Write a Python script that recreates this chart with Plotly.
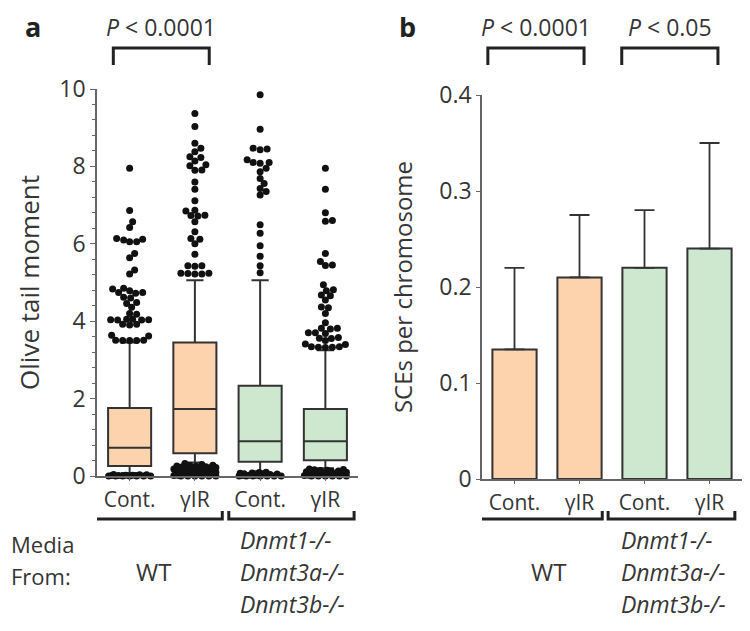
import plotly.graph_objects as go

# ---------------- data ----------------
categories = ["Cont.", "γIR", "Cont.", "γIR"]
wt_label = "WT"
ko_lines = ["Dnmt1-/-", "Dnmt3a-/-", "Dnmt3b-/-"]
media_lines = ["Media", "From:"]
fill_colors = ["#FDD3AE", "#FDD3AE", "#CDE8CF", "#CDE8CF"]

# panel a: Olive tail moment box plots
box_q1 = [0.26, 0.59, 0.37, 0.41]
box_median = [0.73, 1.73, 0.90, 0.90]
box_q3 = [1.76, 3.45, 2.33, 1.73]
box_lower = [0.08, 0.35, 0.12, 0.20]
box_upper = [3.45, 5.06, 5.06, 3.25]

wt_cont_out = [7.95, 6.86, 6.57, 6.42, 6.14, 6.12, 6.10, 6.05, 6.05, 5.75, 5.64, 5.32, 5.22,
               4.85, 4.83, 4.79, 4.74, 4.74, 4.72, 4.62, 4.60, 4.48, 4.46, 4.36, 4.20, 4.18,
               4.05, 4.05, 4.04, 4.04, 4.03, 4.03, 3.92, 3.92, 3.90, 3.64, 3.62,
               3.51, 3.51, 3.50, 3.50, 3.50,
               0.0, 0.0, 0.0, 0.0, 0.0, 0.0, 0.0, 0.01, 0.01, 0.02, 0.02, 0.03, 0.03, 0.04]
wt_gir_out = [9.37, 9.03, 8.60, 8.47, 8.38, 8.25, 8.23, 8.14, 8.04, 8.02, 7.91, 7.90, 7.60,
              7.41, 7.11, 6.87, 6.85, 6.74, 6.73, 6.72, 6.57, 6.31, 6.14, 6.12, 6.00, 5.73,
              5.43, 5.43, 5.42, 5.24, 5.24, 5.23, 5.22, 5.22,
              0.0, 0.0, 0.0, 0.0, 0.0, 0.0, 0.01, 0.02, 0.03, 0.04, 0.05, 0.05, 0.06, 0.07,
              0.08, 0.09, 0.10, 0.10, 0.11, 0.12, 0.13, 0.14, 0.15, 0.15, 0.16, 0.17, 0.18,
              0.19, 0.20, 0.20, 0.21, 0.22, 0.23, 0.24, 0.25, 0.26, 0.27, 0.28, 0.30, 0.32]
ko_cont_out = [9.85, 8.96, 8.47, 8.45, 8.43, 8.17, 8.10, 8.10, 8.08, 7.95, 7.86, 7.69, 7.56,
               7.43, 7.35, 7.26, 6.49, 6.27, 5.95, 5.68, 5.43, 5.25,
               0.0, 0.0, 0.0, 0.0, 0.0, 0.0, 0.0, 0.01, 0.02, 0.02, 0.03, 0.04, 0.05, 0.06,
               0.07, 0.08, 0.09, 0.10]
ko_gir_out = [7.95, 7.41, 6.80, 6.60, 6.58, 5.75, 5.54, 5.45, 5.44, 4.94, 4.81, 4.79, 4.68,
              4.66, 4.55, 4.37, 4.35, 4.20, 3.96, 3.82, 3.82, 3.80, 3.70, 3.70, 3.68, 3.58,
              3.56, 3.55, 3.50, 3.41, 3.40, 3.34, 3.34, 3.33, 3.33, 3.32,
              0.0, 0.0, 0.0, 0.0, 0.0, 0.0, 0.01, 0.02, 0.03, 0.04, 0.05, 0.06, 0.07, 0.08,
              0.08, 0.09, 0.10, 0.11, 0.12, 0.13, 0.14, 0.15, 0.16, 0.17, 0.18]
outliers = [wt_cont_out, wt_gir_out, ko_cont_out, ko_gir_out]

# panel b: SCEs per chromosome
sce_mean = [0.135, 0.21, 0.22, 0.24]
sce_err = [0.085, 0.065, 0.06, 0.11]

# ---------------- style / geometry ----------------
FONT = "Open Sans"
TXT = "#353535"
LINE = "#333333"
AX = "#666666"

OFF = 8              # page body margin
W, H = 734, 615      # figure size
ax_a_x = (97, 358)
ax_b_x = (482, 742)
ax_a_y = (89, 476)
ax_b_y = (95, 479)


def px2paper_x(p):
    return (p - OFF) / W


def px2paper_y(p):
    return 1 - (p - OFF) / H


def swarm(vals, px_per_unit, px_per_cat, diam=6.3, max_half=21):
    """Simple beeswarm: return x-offsets (category units) for the values."""
    order = sorted(range(len(vals)), key=lambda i: vals[i])
    placed = []
    offs = [0.0] * len(vals)
    for i in order:
        y = vals[i] * px_per_unit
        best = None
        for k in range(0, max_half + 1):
            for s in ([0] if k == 0 else [1, -1]):
                x = s * k
                if all((x - a) ** 2 + (y - b) ** 2 >= diam ** 2 for a, b in placed):
                    best = x
                    break
            if best is not None:
                break
        if best is None:
            cands = list(range(-max_half, max_half + 1))
            best = max(cands, key=lambda x: min((x - a) ** 2 + (y - b) ** 2 for a, b in placed))
        placed.append((best, y))
        offs[i] = best / px_per_cat
    return offs


fig = go.Figure()

# ---- panel a boxes ----
for i in range(4):
    fig.add_trace(go.Box(
        x=[i], q1=[box_q1[i]], median=[box_median[i]], q3=[box_q3[i]],
        lowerfence=[box_lower[i]], upperfence=[box_upper[i]],
        fillcolor=fill_colors[i], line=dict(color=LINE, width=2),
        width=0.66, whiskerwidth=0.4, boxpoints=False, showlegend=False,
        xaxis="x", yaxis="y"))

px_per_unit_a = (ax_a_y[1] - ax_a_y[0]) / 10.0
px_per_cat_a = (ax_a_x[1] - ax_a_x[0]) / 4.0
for i, vals in enumerate(outliers):
    offs = swarm(vals, px_per_unit_a, px_per_cat_a)
    fig.add_trace(go.Scatter(
        x=[i + o for o in offs], y=vals, mode="markers",
        marker=dict(color="#111111", size=7), cliponaxis=False,
        showlegend=False, xaxis="x", yaxis="y"))

# ---- panel b bars ----
fig.add_trace(go.Bar(
    x=list(range(4)), y=sce_mean, width=0.68,
    marker=dict(color=fill_colors, line=dict(color=LINE, width=2)),
    error_y=dict(type="data", symmetric=False, array=sce_err,
                 arrayminus=[0] * 4, color=LINE, thickness=1.8, width=10),
    showlegend=False, xaxis="x2", yaxis="y2"))

axis_common = dict(showgrid=False, zeroline=False, showline=True, linecolor=AX,
                   linewidth=1.6, automargin=False)
tick_font = dict(family=FONT, size=23, color=TXT)
cat_font = dict(family=FONT, size=21, color=TXT)

fig.update_layout(
    width=W, height=H, margin=dict(l=0, r=0, t=0, b=0),
    paper_bgcolor="white", plot_bgcolor="white",
    font=dict(family=FONT, size=22, color=TXT),
    xaxis=dict(domain=[px2paper_x(ax_a_x[0]), px2paper_x(ax_a_x[1])],
               range=[-0.5, 3.5], tickvals=list(range(4)), ticktext=categories,
               ticks="outside", ticklen=3, tickcolor=AX, ticklabelstandoff=1,
               tickfont=cat_font, anchor="y", **axis_common),
    yaxis=dict(domain=[px2paper_y(ax_a_y[1]), px2paper_y(ax_a_y[0])],
               range=[0, 10], tickvals=[0, 2, 4, 6, 8, 10],
               ticks="outside", ticklen=5, tickcolor=AX, tickfont=tick_font,
               minor=dict(dtick=0.4, ticks="outside", ticklen=3, tickcolor=AX),
               title=dict(text="Olive tail moment", standoff=12,
                          font=dict(family=FONT, size=26, color=TXT)),
               anchor="x", **axis_common),
    xaxis2=dict(domain=[px2paper_x(ax_b_x[0]), px2paper_x(ax_b_x[1])],
                range=[-0.5, 3.5], tickvals=list(range(4)), ticktext=categories,
                ticks="outside", ticklen=3, tickcolor=AX, ticklabelstandoff=1,
                tickfont=cat_font, anchor="y2", **axis_common),
    yaxis2=dict(domain=[px2paper_y(ax_b_y[1]), px2paper_y(ax_b_y[0])],
                range=[0, 0.4], tickvals=[0, 0.1, 0.2, 0.3, 0.4],
                ticktext=["0", "0.1", "0.2", "0.3", "0.4"],
                ticks="outside", ticklen=4, tickcolor=AX, tickfont=tick_font,
                title=dict(text="SCEs per chromosome", standoff=20,
                           font=dict(family=FONT, size=24, color=TXT)),
                anchor="x2", **axis_common),
)

shapes = []
annotations = []


def note(x, y, text, size, xref="paper", xanchor="center", color=TXT):
    annotations.append(dict(x=x, y=px2paper_y(y), xref=xref, yref="paper", text=text,
                            showarrow=False, xanchor=xanchor, yanchor="middle",
                            font=dict(family=FONT, size=size, color=color)))


# panel letters
note(px2paper_x(33), 27, "<b>a</b>", 27, color="#222")
note(px2paper_x(407), 27, "<b>b</b>", 27, color="#222")

# significance brackets (top): (xref, x0, x1, label)
top_brackets = [("x", -0.25, 1.22, "<i>P</i> < 0.0001"),
                ("x2", -0.41, 1.07, "<i>P</i> < 0.0001"),
                ("x2", 1.65, 3.13, "<i>P</i> < 0.05")]
y_top_h = px2paper_y(48)
y_top_e = px2paper_y(65)
for xr, x0, x1, lab in top_brackets:
    shapes.append(dict(type="path", xref=xr, yref="paper",
                       path=f"M {x0},{y_top_e} L {x0},{y_top_h} L {x1},{y_top_h} L {x1},{y_top_e}",
                       line=dict(color="#222", width=3)))
    note((x0 + x1) / 2, 27, lab, 23, xref=xr)

# group brackets (bottom)
bottom_brackets = [("x", -0.53, 1.42), ("x", 1.52, 3.44),
                   ("x2", -0.61, 1.35), ("x2", 1.44, 3.39)]
y_bot_h = px2paper_y(519)
y_bot_e = px2paper_y(511)
for xr, x0, x1 in bottom_brackets:
    shapes.append(dict(type="path", xref=xr, yref="paper",
                       path=f"M {x0},{y_bot_e} L {x0},{y_bot_h} L {x1},{y_bot_h} L {x1},{y_bot_e}",
                       line=dict(color="#222", width=3)))

# group labels
for xr, wt_x, ko_x in [("x", 0.36, 1.66), ("x2", 0.52, 1.60)]:
    note(wt_x, 571, wt_label, 24, xref=xr)
    for line_text, yy in zip(ko_lines, [540, 572, 604]):
        note(ko_x, yy, "<i>" + line_text + "</i>", 23, xref=xr, xanchor="left")

for line_text, yy in zip(media_lines, [544, 576]):
    note(px2paper_x(OFF + 1), yy, line_text, 22, xanchor="left")

fig.update_layout(shapes=shapes, annotations=annotations)

fig.write_html("out.html")
